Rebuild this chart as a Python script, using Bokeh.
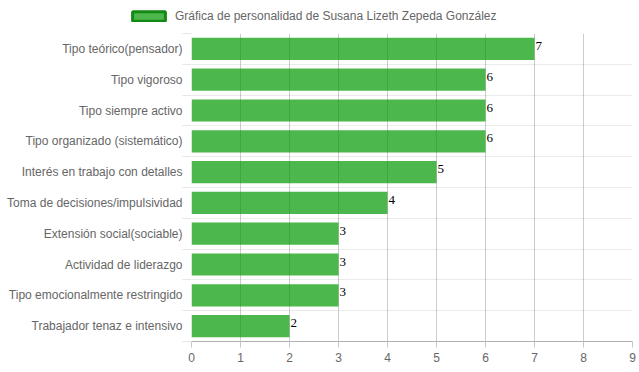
from bokeh.plotting import figure
from bokeh.layouts import column
from bokeh.models import Range1d, FixedTicker, ColumnDataSource, Legend, LegendItem
from bokeh.core.properties import value
from bokeh.embed import file_html
from bokeh.resources import INLINE

categories = [
    "Tipo teórico(pensador)",
    "Tipo vigoroso",
    "Tipo siempre activo",
    "Tipo organizado (sistemático)",
    "Interés en trabajo con detalles",
    "Toma de decisiones/impulsividad",
    "Extensión social(sociable)",
    "Actividad de liderazgo",
    "Tipo emocionalmente restringido",
    "Trabajador tenaz e intensivo",
]
values = [7, 6, 6, 6, 5, 4, 3, 3, 3, 2]
x_ticks = [0, 1, 2, 3, 4, 5, 6, 7, 8, 9]
series_name = "Gráfica de personalidad de Susana Lizeth Zepeda González"

n = len(categories)
ys = [i + 0.5 for i in range(n)]
source = ColumnDataSource(dict(y=ys, v=values, lbl=[str(v) for v in values], cat=categories))

FONT = "Liberation Sans"
W = 636

p = figure(width=W, height=331, output_backend="svg", toolbar_location=None,
           x_range=Range1d(0, 9), y_range=Range1d(n, 0), frame_align=False,
           min_border_left=191, min_border_right=4, min_border_top=0, min_border_bottom=21)
p.outline_line_color = None
p.background_fill_color = "white"

# grids
p.xgrid.ticker = FixedTicker(ticks=x_ticks)
p.xgrid.grid_line_color = "black"
p.xgrid.grid_line_alpha = 0.2
p.ygrid.ticker = FixedTicker(ticks=list(range(n + 1)))
p.ygrid.grid_line_color = "black"
p.ygrid.grid_line_alpha = 0.08

# x axis
xa = p.xaxis[0]
xa.ticker = FixedTicker(ticks=x_ticks)
xa.axis_line_color = "#b0b0b0"
xa.major_tick_line_color = "#c8c8c8"
xa.major_tick_out = 6
xa.major_tick_in = 0
xa.minor_tick_line_color = None
xa.major_label_standoff = 5
xa.major_label_text_font = FONT
xa.major_label_text_font_size = "12px"
xa.major_label_text_color = "#666666"

# y axis
ya = p.yaxis[0]
ya.ticker = FixedTicker(ticks=ys, minor_ticks=list(range(n + 1)))
ya.major_label_overrides = {y: c for y, c in zip(ys, categories)}
ya.axis_line_color = None
ya.major_tick_line_color = None
ya.major_tick_out = 0
ya.major_tick_in = 0
ya.minor_tick_line_color = "#e6e6e6"
ya.minor_tick_out = 9
ya.minor_tick_in = 0
ya.major_label_standoff = 0
ya.major_label_text_font = FONT
ya.major_label_text_font_size = "12px"
ya.major_label_text_color = "#666666"

bars = p.hbar(y="y", right="v", left=0, height=0.72, source=source,
              fill_color="#009900", fill_alpha=0.7, line_color=None)

p.text(x="v", y="y", text="lbl", source=source, x_offset=1, y_offset=-3,
       text_align="left", text_baseline="alphabetic",
       text_font=value("Liberation Serif"), text_font_size="13px", text_color="black")

# legend strip above the chart (legend proxy bar lies outside the strip's visible range)
lf = figure(width=W, height=33, output_backend="svg", toolbar_location=None,
            x_range=Range1d(0, 1), y_range=Range1d(0, 1), frame_align=False,
            min_border_left=0, min_border_right=0, min_border_top=0, min_border_bottom=0)
lf.axis.visible = False
lf.grid.visible = False
lf.outline_line_color = None
dummy = lf.hbar(y=[-1], right=[0], left=[0], height=0.72,
                fill_color="#009900", fill_alpha=0.7, line_color="#138a13", line_width=3)
legend = Legend(items=[LegendItem(label=series_name, renderers=[dummy])],
                location=(128, 10), orientation="horizontal",
                glyph_width=41, glyph_height=12, label_height=12,
                label_standoff=6, padding=0, margin=0, spacing=0,
                border_line_color=None, background_fill_alpha=0,
                label_text_font=FONT, label_text_font_size="12px",
                label_text_color="#666666")
lf.add_layout(legend, "center")

layout = column(lf, p, spacing=0)
open("out.html", "w").write(file_html(layout, INLINE))
